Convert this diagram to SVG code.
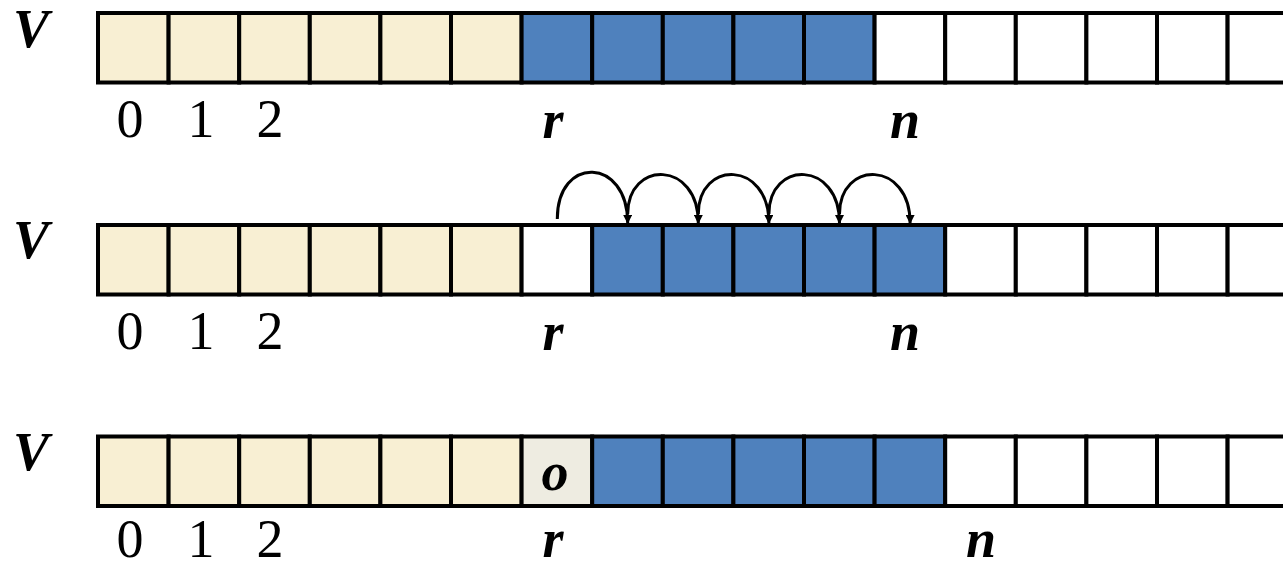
<svg xmlns="http://www.w3.org/2000/svg" width="1283" height="563" viewBox="0 0 1283 563">
<defs>
<style>
.c{stroke:#000;stroke-width:4}
.b{fill:#F8EFD3}
.u{fill:#4F81BD}
.w{fill:#FFFFFF}
.g{fill:#EEECE1}
.lbl{font-family:"Liberation Serif","Times New Roman",serif;font-size:54px;text-anchor:middle;fill:#000}
.bi{font-weight:bold;font-style:italic}
.arc{fill:none;stroke:#000;stroke-width:3}
</style>
<marker id="ah" viewBox="0 0 10 10" refX="9" refY="5" markerWidth="11" markerHeight="9" markerUnits="userSpaceOnUse" orient="auto">
<path d="M0,0 L10,5 L0,10 Z" fill="#000"/>
</marker>
</defs>
<rect width="1283" height="563" fill="#FFFFFF"/>

<g id="row1">
<rect class="c b" x="98" y="13" width="70.6" height="69.5"/>
<rect class="c b" x="168.6" y="13" width="70.6" height="69.5"/>
<rect class="c b" x="239.2" y="13" width="70.6" height="69.5"/>
<rect class="c b" x="309.8" y="13" width="70.6" height="69.5"/>
<rect class="c b" x="380.4" y="13" width="70.6" height="69.5"/>
<rect class="c b" x="451" y="13" width="70.6" height="69.5"/>
<rect class="c u" x="521.6" y="13" width="70.6" height="69.5"/>
<rect class="c u" x="592.2" y="13" width="70.6" height="69.5"/>
<rect class="c u" x="662.8" y="13" width="70.6" height="69.5"/>
<rect class="c u" x="733.4" y="13" width="70.6" height="69.5"/>
<rect class="c u" x="804" y="13" width="70.6" height="69.5"/>
<rect class="c w" x="874.6" y="13" width="70.6" height="69.5"/>
<rect class="c w" x="945.2" y="13" width="70.6" height="69.5"/>
<rect class="c w" x="1015.8" y="13" width="70.6" height="69.5"/>
<rect class="c w" x="1086.4" y="13" width="70.6" height="69.5"/>
<rect class="c w" x="1157" y="13" width="70.6" height="69.5"/>
<rect class="c w" x="1227.6" y="13" width="70.6" height="69.5"/>
<text class="lbl bi" x="31" y="47">V</text>
<text class="lbl" x="130" y="137">0</text>
<text class="lbl" x="201" y="137">1</text>
<text class="lbl" x="270" y="137">2</text>
<text class="lbl bi" x="553" y="138">r</text>
<text class="lbl bi" x="905" y="138">n</text>
</g>

<g id="row2">
<rect class="c b" x="98" y="225" width="70.6" height="69.5"/>
<rect class="c b" x="168.6" y="225" width="70.6" height="69.5"/>
<rect class="c b" x="239.2" y="225" width="70.6" height="69.5"/>
<rect class="c b" x="309.8" y="225" width="70.6" height="69.5"/>
<rect class="c b" x="380.4" y="225" width="70.6" height="69.5"/>
<rect class="c b" x="451" y="225" width="70.6" height="69.5"/>
<rect class="c w" x="521.6" y="225" width="70.6" height="69.5"/>
<rect class="c u" x="592.2" y="225" width="70.6" height="69.5"/>
<rect class="c u" x="662.8" y="225" width="70.6" height="69.5"/>
<rect class="c u" x="733.4" y="225" width="70.6" height="69.5"/>
<rect class="c u" x="804" y="225" width="70.6" height="69.5"/>
<rect class="c u" x="874.6" y="225" width="70.6" height="69.5"/>
<rect class="c w" x="945.2" y="225" width="70.6" height="69.5"/>
<rect class="c w" x="1015.8" y="225" width="70.6" height="69.5"/>
<rect class="c w" x="1086.4" y="225" width="70.6" height="69.5"/>
<rect class="c w" x="1157" y="225" width="70.6" height="69.5"/>
<rect class="c w" x="1227.6" y="225" width="70.6" height="69.5"/>
<text class="lbl bi" x="31" y="258">V</text>
<text class="lbl" x="130" y="349">0</text>
<text class="lbl" x="201" y="349">1</text>
<text class="lbl" x="270" y="349">2</text>
<text class="lbl bi" x="553" y="350">r</text>
<text class="lbl bi" x="905" y="350">n</text>
</g>

<g id="row3">
<rect class="c b" x="98" y="436.5" width="70.6" height="69.5"/>
<rect class="c b" x="168.6" y="436.5" width="70.6" height="69.5"/>
<rect class="c b" x="239.2" y="436.5" width="70.6" height="69.5"/>
<rect class="c b" x="309.8" y="436.5" width="70.6" height="69.5"/>
<rect class="c b" x="380.4" y="436.5" width="70.6" height="69.5"/>
<rect class="c b" x="451" y="436.5" width="70.6" height="69.5"/>
<rect class="c g" x="521.6" y="436.5" width="70.6" height="69.5"/>
<rect class="c u" x="592.2" y="436.5" width="70.6" height="69.5"/>
<rect class="c u" x="662.8" y="436.5" width="70.6" height="69.5"/>
<rect class="c u" x="733.4" y="436.5" width="70.6" height="69.5"/>
<rect class="c u" x="804" y="436.5" width="70.6" height="69.5"/>
<rect class="c u" x="874.6" y="436.5" width="70.6" height="69.5"/>
<rect class="c w" x="945.2" y="436.5" width="70.6" height="69.5"/>
<rect class="c w" x="1015.8" y="436.5" width="70.6" height="69.5"/>
<rect class="c w" x="1086.4" y="436.5" width="70.6" height="69.5"/>
<rect class="c w" x="1157" y="436.5" width="70.6" height="69.5"/>
<rect class="c w" x="1227.6" y="436.5" width="70.6" height="69.5"/>
<text class="lbl bi" x="31" y="470">V</text>
<text class="lbl bi" x="555" y="490">o</text>
<text class="lbl" x="130" y="557">0</text>
<text class="lbl" x="201" y="557">1</text>
<text class="lbl" x="270" y="557">2</text>
<text class="lbl bi" x="553" y="557">r</text>
<text class="lbl bi" x="981" y="557">n</text>
</g>

<g id="connectors">
<path class="arc" marker-end="url(#ah)" d="M557.3,219 C557.3,155 627.7,157 627.7,223"/>
<path class="arc" marker-end="url(#ah)" d="M627.7,214 C627.7,160 698.3,160 698.3,223"/>
<path class="arc" marker-end="url(#ah)" d="M698.3,214 C698.3,160 768.9,160 768.9,223"/>
<path class="arc" marker-end="url(#ah)" d="M768.9,214 C768.9,160 839.5,160 839.5,223"/>
<path class="arc" marker-end="url(#ah)" d="M839.5,214 C839.5,160 910.1,160 910.1,223"/>
</g>
</svg>
